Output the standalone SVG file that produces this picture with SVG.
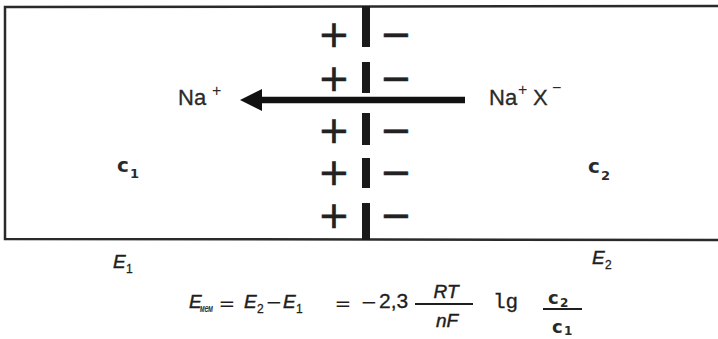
<svg xmlns="http://www.w3.org/2000/svg" width="718" height="339" viewBox="0 0 718 339">
<style>
.frame{fill:none;stroke:#2a2a2a;stroke-width:2.5}
.memb{fill:#1a1a1a}
.sign{font-family:"DejaVu Sans",sans-serif;font-size:38px;fill:#222;stroke:#222;stroke-width:0.6;text-anchor:middle}
.ion{font-family:"Liberation Sans",Arial,sans-serif;font-size:22px;fill:#2a2a2a;stroke:#2a2a2a;stroke-width:0.3}
.sup{font-family:"Liberation Sans",Arial,sans-serif;font-size:16px;fill:#2a2a2a}
.conc{font-family:"DejaVu Sans",sans-serif;font-weight:bold;font-size:20px;fill:#2a2a2a}
.csub{font-family:"DejaVu Sans",sans-serif;font-weight:bold;font-size:13px;fill:#2a2a2a}
.it{font-family:"Liberation Sans",Arial,sans-serif;font-style:italic;font-size:19px;fill:#1e1e1e;stroke:#1e1e1e;stroke-width:0.45}
.sub{font-family:"Liberation Sans",Arial,sans-serif;font-size:12px;fill:#1e1e1e;stroke:#1e1e1e;stroke-width:0.3}
.op{font-family:"DejaVu Sans",sans-serif;font-size:20px;fill:#1e1e1e;text-anchor:middle}
.num{font-family:"Liberation Sans",Arial,sans-serif;font-size:21px;fill:#1e1e1e;stroke:#1e1e1e;stroke-width:0.3}
.lg{font-family:"Liberation Mono",monospace;font-size:21px;fill:#1e1e1e;stroke:#1e1e1e;stroke-width:0.3}
.bar{stroke:#1e1e1e;stroke-width:1.8}
</style>
<defs>
<marker id="head" markerUnits="userSpaceOnUse" markerWidth="24" markerHeight="24" refX="0" refY="11" orient="auto">
<path d="M0,0 L22,11 L0,22 z" fill="#111"/>
</marker>
</defs>
<rect width="718" height="339" fill="#fff"/>
<g id="vessel">
<path class="frame" d="M718,6 L5,7 L5,239 L718,240"/>
</g>
<g id="membrane">
<rect class="memb" x="362" y="6" width="8" height="41"/>
<rect class="memb" x="362" y="62" width="8" height="31"/>
<rect class="memb" x="362" y="113" width="8" height="32"/>
<rect class="memb" x="362" y="158" width="8" height="30"/>
<rect class="memb" x="362" y="203" width="8" height="37"/>
<text class="sign" x="334" y="47">+</text>
<text class="sign" x="334" y="91">+</text>
<text class="sign" x="334" y="143">+</text>
<text class="sign" x="334" y="185">+</text>
<text class="sign" x="334" y="228">+</text>
<text class="sign" x="396" y="47">−</text>
<text class="sign" x="396" y="91">−</text>
<text class="sign" x="396" y="143">−</text>
<text class="sign" x="396" y="185">−</text>
<text class="sign" x="396" y="228">−</text>
</g>
<g id="ion-left">
<text class="ion" x="178" y="105">Na</text>
<text class="sup" x="212" y="96">+</text>
</g>
<g id="ion-right">
<text class="ion" x="489" y="105">Na</text>
<text class="sup" x="518" y="95">+</text>
<text class="ion" x="533" y="105">X</text>
<text class="sup" x="552" y="93">−</text>
</g>
<g id="connectors">
<line x1="465" y1="100" x2="262" y2="100" stroke="#111" stroke-width="6.5" marker-end="url(#head)"/>
</g>
<g id="c1">
<text class="conc" x="117" y="172">c</text>
<text class="csub" x="130" y="178">1</text>
</g>
<g id="c2">
<text class="conc" x="588" y="173">c</text>
<text class="csub" x="601" y="180">2</text>
</g>
<g id="E1">
<text class="it" x="113" y="268">E</text>
<text class="sub" x="126" y="273">1</text>
</g>
<g id="E2">
<text class="it" x="592" y="264">E</text>
<text class="sub" x="605" y="269">2</text>
</g>
<g id="formula">
<text class="it" x="189" y="308">E</text>
<text class="it" x="200" y="312" style="font-size:10px;stroke-width:0.2" textLength="13" lengthAdjust="spacingAndGlyphs">мем</text>
<text class="op" x="227" y="310">=</text>
<text class="it" x="244" y="308">E</text>
<text class="sub" x="257" y="313">2</text>
<text class="op" x="274" y="309">−</text>
<text class="it" x="283" y="308">E</text>
<text class="sub" x="296" y="313">1</text>
<text class="op" x="343" y="310">=</text>
<text class="op" x="369" y="309">−</text>
<text class="num" x="379" y="308">2,3</text>
<line class="bar" x1="415" y1="304" x2="473" y2="304"/>
<text class="it" x="446" y="298" text-anchor="middle">RT</text>
<text class="it" x="447" y="327" text-anchor="middle">nF</text>
<text class="lg" x="493" y="308">lg</text>
<line class="bar" x1="543" y1="309" x2="582" y2="309"/>
<text class="conc" x="548" y="304" style="font-size:18px">c</text>
<text class="csub" x="560" y="307" style="font-size:12px">2</text>
<text class="conc" x="552" y="333" style="font-size:18px">c</text>
<text class="csub" x="564" y="335" style="font-size:12px">1</text>
</g>
</svg>
